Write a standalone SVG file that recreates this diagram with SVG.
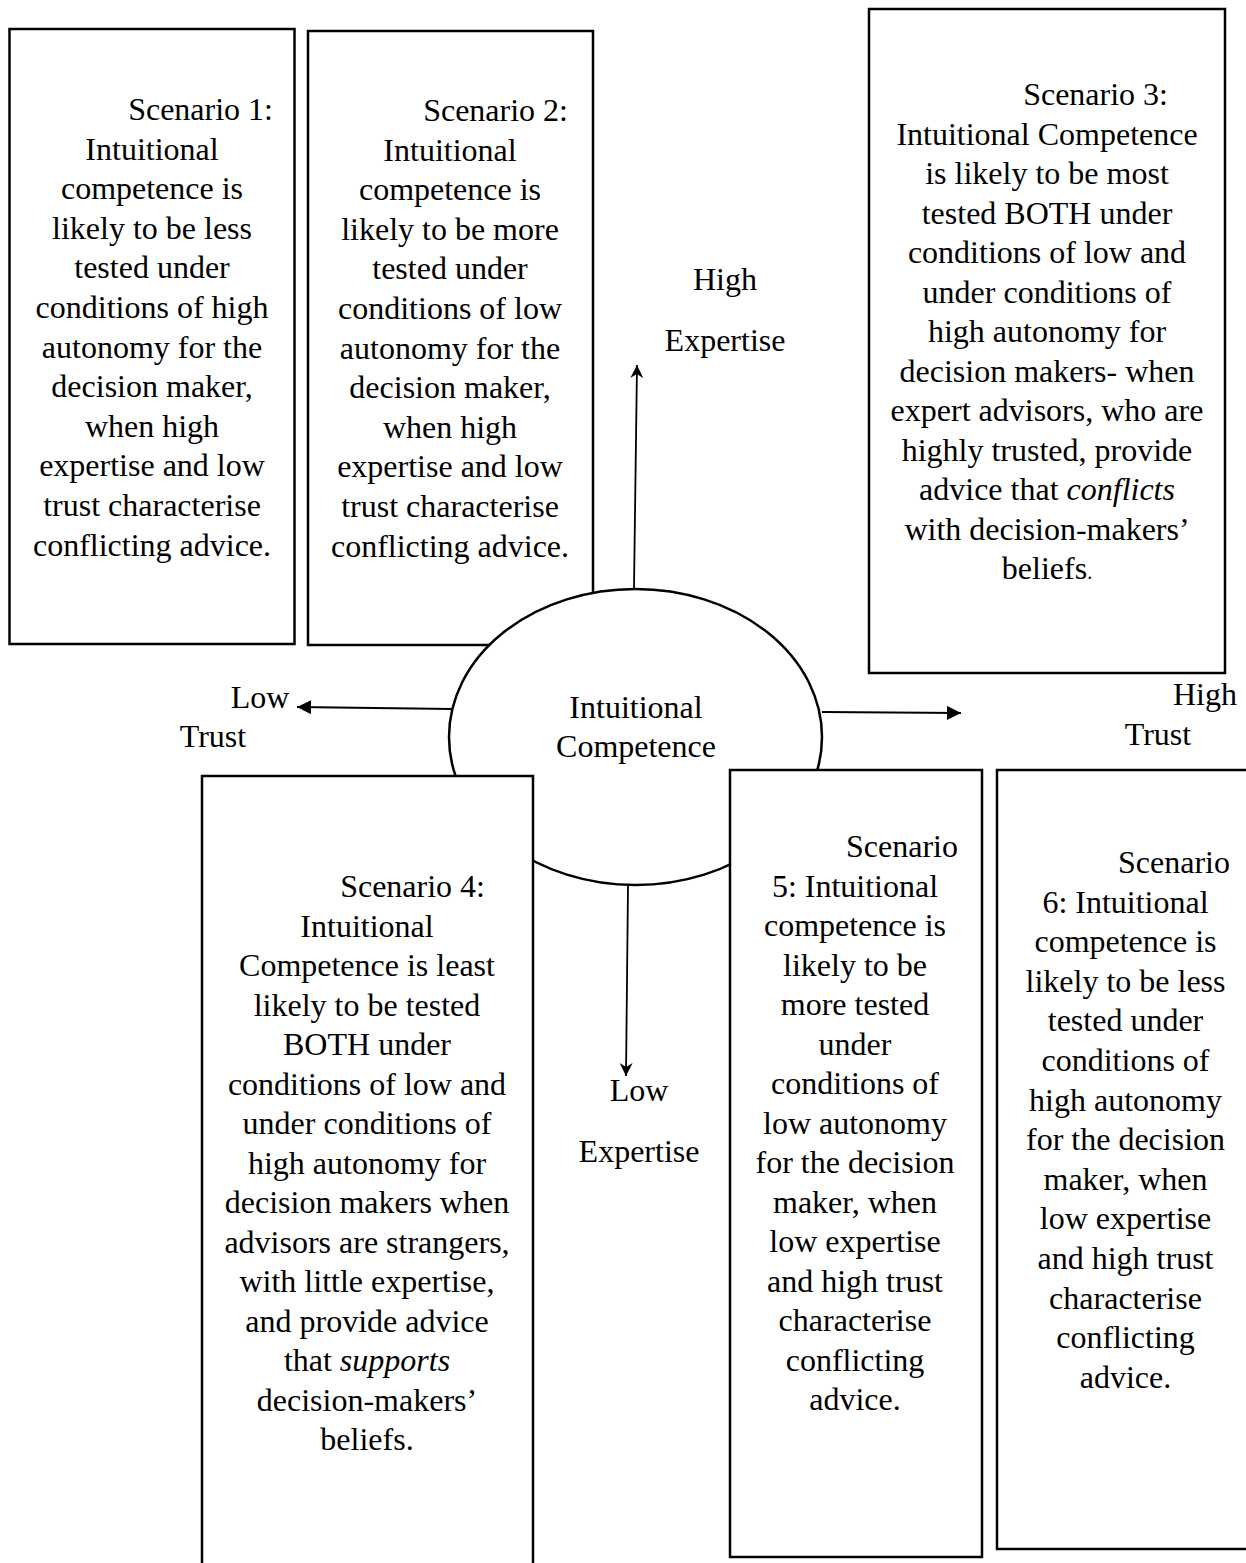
<svg xmlns="http://www.w3.org/2000/svg" width="1246" height="1563" viewBox="0 0 1246 1563">
<defs>
<style>
.box{fill:#fff;stroke:#000;stroke-width:2.5}
.t{font-family:"Liberation Serif","Times New Roman",serif;font-size:32px;fill:#000;text-anchor:middle}
.e{text-anchor:end}
.c{stroke:#000;stroke-width:1.8;fill:none}
</style>
<marker id="tri" viewBox="0 0 10 10" refX="10" refY="5" markerWidth="15" markerHeight="14" markerUnits="userSpaceOnUse" orient="auto"><path d="M0,0 L10,5 L0,10 z" fill="#000"/></marker>
<marker id="stealth" viewBox="0 0 10 10" refX="10" refY="5" markerWidth="14" markerHeight="13" markerUnits="userSpaceOnUse" orient="auto"><path d="M0,0 L10,5 L0,10 L3,5 z" fill="#000"/></marker>
</defs>
<rect width="1246" height="1563" fill="#fff"/>
<g id="scenario1">
<rect class="box" x="9.5" y="29" width="285" height="615"/>
<text class="t e" x="273" y="120">Scenario 1:</text>
<text class="t" x="152" y="159.6">Intuitional</text>
<text class="t" x="152" y="199.2">competence is</text>
<text class="t" x="152" y="238.8">likely to be less</text>
<text class="t" x="152" y="278.4">tested under</text>
<text class="t" x="152" y="318">conditions of high</text>
<text class="t" x="152" y="357.6">autonomy for the</text>
<text class="t" x="152" y="397.2">decision maker,</text>
<text class="t" x="152" y="436.8">when high</text>
<text class="t" x="152" y="476.4">expertise and low</text>
<text class="t" x="152" y="516">trust characterise</text>
<text class="t" x="152" y="555.6">conflicting advice.</text>
</g>
<g id="scenario2">
<rect class="box" x="308" y="31" width="285" height="614"/>
<text class="t e" x="568" y="121">Scenario 2:</text>
<text class="t" x="450" y="160.6">Intuitional</text>
<text class="t" x="450" y="200.2">competence is</text>
<text class="t" x="450" y="239.8">likely to be more</text>
<text class="t" x="450" y="279.4">tested under</text>
<text class="t" x="450" y="319">conditions of low</text>
<text class="t" x="450" y="358.6">autonomy for the</text>
<text class="t" x="450" y="398.2">decision maker,</text>
<text class="t" x="450" y="437.8">when high</text>
<text class="t" x="450" y="477.4">expertise and low</text>
<text class="t" x="450" y="517">trust characterise</text>
<text class="t" x="450" y="556.6">conflicting advice.</text>
</g>
<g id="scenario3">
<rect class="box" x="869" y="9" width="356" height="664"/>
<text class="t e" x="1168" y="105">Scenario 3:</text>
<text class="t" x="1047" y="144.5">Intuitional Competence</text>
<text class="t" x="1047" y="184">is likely to be most</text>
<text class="t" x="1047" y="223.5">tested BOTH under</text>
<text class="t" x="1047" y="263">conditions of low and</text>
<text class="t" x="1047" y="302.5">under conditions of</text>
<text class="t" x="1047" y="342">high autonomy for</text>
<text class="t" x="1047" y="381.5">decision makers- when</text>
<text class="t" x="1047" y="421">expert advisors, who are</text>
<text class="t" x="1047" y="460.5">highly trusted, provide</text>
<text class="t" x="1047" y="500">advice that <tspan font-style="italic">conflicts</tspan></text>
<text class="t" x="1047" y="539.5">with decision-makers’</text>
<text class="t" x="1047" y="579">beliefs<tspan font-size="20">.</tspan></text>
</g>
<g id="center">
<ellipse cx="635.5" cy="737" rx="186.5" ry="148" fill="#fff" stroke="#000" stroke-width="2.5"/>
<text class="t" x="636" y="718">Intuitional</text>
<text class="t" x="636" y="757">Competence</text>
</g>
<g id="scenario4">
<rect class="box" x="202" y="776" width="331" height="800"/>
<text class="t e" x="485" y="897">Scenario 4:</text>
<text class="t" x="367" y="936.5">Intuitional</text>
<text class="t" x="367" y="976">Competence is least</text>
<text class="t" x="367" y="1015.5">likely to be tested</text>
<text class="t" x="367" y="1055">BOTH under</text>
<text class="t" x="367" y="1094.5">conditions of low and</text>
<text class="t" x="367" y="1134">under conditions of</text>
<text class="t" x="367" y="1173.5">high autonomy for</text>
<text class="t" x="367" y="1213">decision makers when</text>
<text class="t" x="367" y="1252.5">advisors are strangers,</text>
<text class="t" x="367" y="1292">with little expertise,</text>
<text class="t" x="367" y="1331.5">and provide advice</text>
<text class="t" x="367" y="1371">that <tspan font-style="italic">supports</tspan></text>
<text class="t" x="367" y="1410.5">decision-makers’</text>
<text class="t" x="367" y="1450">beliefs.</text>
</g>
<g id="scenario5">
<rect class="box" x="730" y="770" width="252" height="787"/>
<text class="t e" x="958" y="857">Scenario</text>
<text class="t" x="855" y="896.5">5: Intuitional</text>
<text class="t" x="855" y="936">competence is</text>
<text class="t" x="855" y="975.5">likely to be</text>
<text class="t" x="855" y="1015">more tested</text>
<text class="t" x="855" y="1054.5">under</text>
<text class="t" x="855" y="1094">conditions of</text>
<text class="t" x="855" y="1133.5">low autonomy</text>
<text class="t" x="855" y="1173">for the decision</text>
<text class="t" x="855" y="1212.5">maker, when</text>
<text class="t" x="855" y="1252">low expertise</text>
<text class="t" x="855" y="1291.5">and high trust</text>
<text class="t" x="855" y="1331">characterise</text>
<text class="t" x="855" y="1370.5">conflicting</text>
<text class="t" x="855" y="1410">advice.</text>
</g>
<g id="scenario6">
<rect class="box" x="997" y="770" width="262" height="779"/>
<text class="t e" x="1230" y="873">Scenario</text>
<text class="t" x="1125.5" y="912.6">6: Intuitional</text>
<text class="t" x="1125.5" y="952.2">competence is</text>
<text class="t" x="1125.5" y="991.8">likely to be less</text>
<text class="t" x="1125.5" y="1031.4">tested under</text>
<text class="t" x="1125.5" y="1071">conditions of</text>
<text class="t" x="1125.5" y="1110.6">high autonomy</text>
<text class="t" x="1125.5" y="1150.2">for the decision</text>
<text class="t" x="1125.5" y="1189.8">maker, when</text>
<text class="t" x="1125.5" y="1229.4">low expertise</text>
<text class="t" x="1125.5" y="1269">and high trust</text>
<text class="t" x="1125.5" y="1308.6">characterise</text>
<text class="t" x="1125.5" y="1348.2">conflicting</text>
<text class="t" x="1125.5" y="1387.8">advice.</text>
</g>
<g id="connectors">
<path class="c" d="M634,588 L637,365" marker-end="url(#stealth)"/>
<path class="c" d="M628,886 L626,1076" marker-end="url(#stealth)"/>
<path class="c" d="M452,709 L297,707" marker-end="url(#tri)"/>
<path class="c" d="M822,712 L961,713" marker-end="url(#tri)"/>
</g>
<g id="labels">
<text class="t" x="725" y="290">High</text>
<text class="t" x="725" y="351">Expertise</text>
<text class="t" x="260" y="708">Low</text>
<text class="t" x="213" y="747">Trust</text>
<text class="t" x="1205" y="705">High</text>
<text class="t" x="1158" y="745">Trust</text>
<text class="t" x="639" y="1101">Low</text>
<text class="t" x="639" y="1162">Expertise</text>
</g>
</svg>
